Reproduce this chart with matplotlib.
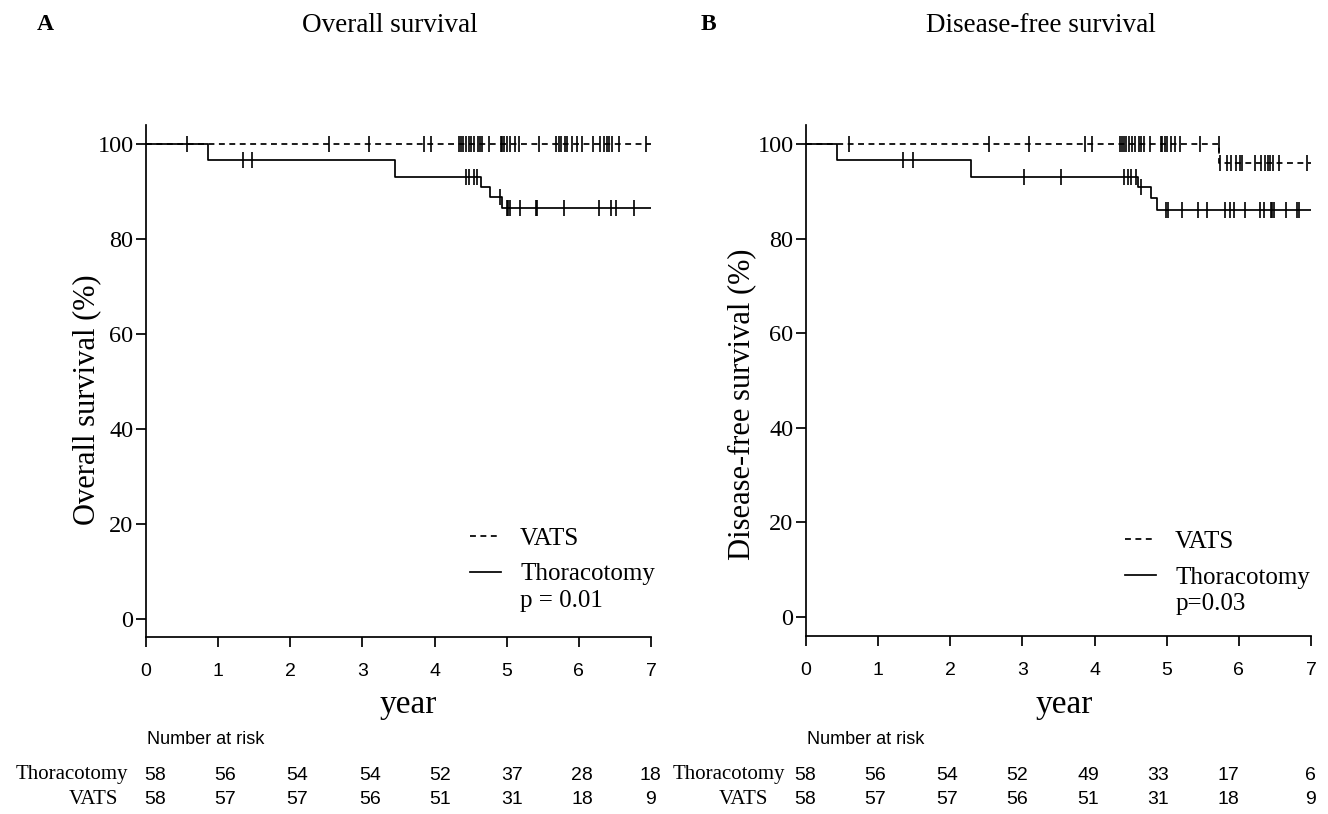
import numpy as np
import matplotlib
matplotlib.use("Agg")
import matplotlib.pyplot as plt
from matplotlib import font_manager as fm

# ---------------- data ----------------
years = [0, 1, 2, 3, 4, 5, 6, 7]
y_ticks = [0, 20, 40, 60, 80, 100]

# Panel A: overall survival (step curves: event times and survival after them)
os_thor_t = [0, 0.86, 3.45, 4.64, 4.77, 4.93, 7.0]
os_thor_s = [100, 96.6, 93.1, 91.0, 88.8, 86.6, 86.6]
os_vats_t = [0, 7.0]
os_vats_s = [100, 100]
os_thor_cens = [1.34, 1.47, 4.43, 4.48, 4.54, 4.59, 4.90, 5.00, 5.02, 5.05,
                5.18, 5.40, 5.42, 5.79, 6.28, 6.45, 6.52, 6.77]
os_vats_cens = [0.57, 2.54, 3.09, 3.85, 3.95, 4.34, 4.37, 4.40, 4.43, 4.48,
                4.51, 4.55, 4.60, 4.63, 4.66, 4.75, 4.92, 4.94, 4.96, 5.00,
                5.05, 5.11, 5.17, 5.45, 5.69, 5.72, 5.75, 5.81, 5.83, 5.91,
                5.98, 6.04, 6.20, 6.29, 6.35, 6.39, 6.42, 6.46, 6.55, 6.93]

# Panel B: disease-free survival
dfs_thor_t = [0, 0.43, 2.29, 4.60, 4.78, 4.87, 7.0]
dfs_thor_s = [100, 96.6, 93.1, 91.0, 88.5, 86.0, 86.0]
dfs_vats_t = [0, 5.73, 7.0]
dfs_vats_s = [100, 95.9, 95.9]
dfs_thor_cens = [1.34, 1.49, 3.02, 3.54, 4.41, 4.46, 4.51, 4.57, 4.64, 4.99,
                 5.02, 5.21, 5.43, 5.56, 5.81, 5.88, 5.93, 6.09, 6.29, 6.35,
                 6.44, 6.46, 6.49, 6.65, 6.81, 6.84]
dfs_vats_cens = [0.59, 2.54, 3.09, 3.87, 3.97, 4.35, 4.38, 4.41, 4.44, 4.48,
                 4.52, 4.56, 4.62, 4.64, 4.68, 4.77, 4.92, 4.94, 4.97, 5.00,
                 5.06, 5.12, 5.18, 5.46, 5.72, 5.74, 5.83, 5.89, 5.96, 6.01,
                 6.05, 6.22, 6.31, 6.36, 6.41, 6.43, 6.47, 6.56, 6.94]

# Number at risk
os_risk_thor = [58, 56, 54, 54, 52, 37, 28, 18]
os_risk_vats = [58, 57, 57, 56, 51, 31, 18, 9]
dfs_risk_thor = [58, 56, 54, 52, 49, 33, 17, 6]
dfs_risk_vats = [58, 57, 57, 56, 51, 31, 18, 9]

# ---------------- styling ----------------
names = {f.name for f in fm.fontManager.ttflist}
SERIF = "Liberation Serif" if "Liberation Serif" in names else "DejaVu Serif"
NARROW = "Liberation Sans Narrow" if "Liberation Sans Narrow" in names else "Liberation Sans"

W, H = 1328, 814
fig = plt.figure(figsize=(W / 100, H / 100), dpi=100)


def fx(px):
    return px / W


def fy(py):
    return 1 - py / H


def step_val(t_list, s_list, t):
    idx = np.searchsorted(np.asarray(t_list), t, side="right") - 1
    return np.asarray(s_list)[idx]


def panel(left_px, top_px, bottom_px, y0_px, y100_px,
          thor_t, thor_s, vats_t, vats_s, thor_c, vats_c,
          ylabel, ylab_xy, xlab_xy, leg_anchor, ptext, ptext_pos):
    right_px = left_px + 505
    ax = fig.add_axes([fx(left_px), fy(bottom_px), fx(right_px) - fx(left_px),
                       fy(top_px) - fy(bottom_px)])
    scale = (y0_px - y100_px) / 100.0
    ax.set_xlim(0, 7)
    ax.set_ylim(-(bottom_px - y0_px) / scale, 100 + (y100_px - top_px) / scale)

    lw = 1.25
    lv, = ax.step(vats_t, vats_s, where="post", color="black", lw=lw,
                  linestyle=(0, (3.4, 2.6)), label="VATS")
    lt, = ax.step(thor_t, thor_s, where="post", color="black", lw=lw,
                  label="Thoracotomy")
    ax.plot(vats_c, step_val(vats_t, vats_s, vats_c), linestyle="none",
            marker="|", ms=11.5, mew=1.2, color="black")
    ax.plot(thor_c, step_val(thor_t, thor_s, thor_c), linestyle="none",
            marker="|", ms=11.5, mew=1.2, color="black")

    for s in ["top", "right"]:
        ax.spines[s].set_visible(False)
    for s in ["left", "bottom"]:
        ax.spines[s].set_linewidth(1.25)

    ax.set_xticks(years)
    ax.set_yticks(y_ticks)
    ax.tick_params(axis="x", direction="out", length=7, width=1.25, pad=12)
    ax.tick_params(axis="y", direction="out", length=7, width=1.25, pad=2)
    for lab in ax.get_xticklabels():
        lab.set_fontfamily(NARROW)
        lab.set_fontsize(14)
    for lab in ax.get_yticklabels():
        lab.set_fontfamily(SERIF)
        lab.set_fontsize(17.5)

    ax.set_xlabel("year", fontfamily=SERIF, fontsize=24, va="center")
    ax.xaxis.set_label_coords(*xlab_xy)
    ax.set_ylabel(ylabel, fontfamily=SERIF, fontsize=22, va="center")
    ax.yaxis.set_label_coords(*ylab_xy)

    ax.legend(handles=[lv, lt], loc="upper left", bbox_to_anchor=leg_anchor,
              frameon=False, borderpad=0, borderaxespad=0, handlelength=1.25,
              handletextpad=0.75, labelspacing=0.52,
              prop={"family": SERIF, "size": 18})
    ax.text(ptext_pos[0], ptext_pos[1], ptext, transform=ax.transAxes,
            fontfamily=SERIF, fontsize=18, va="center", ha="left")
    return ax


axA = panel(146, 125, 637, 619, 144,
            os_thor_t, os_thor_s, os_vats_t, os_vats_s,
            os_thor_cens, os_vats_cens,
            "Overall survival (%)", (-0.117, 0.463), (0.519, -0.133),
            (0.642, 0.214), "p = 0.01", (0.741, 0.070))
axB = panel(806, 125, 636, 617, 144,
            dfs_thor_t, dfs_thor_s, dfs_vats_t, dfs_vats_s,
            dfs_thor_cens, dfs_vats_cens,
            "Disease-free survival (%)", (-0.127, 0.453), (0.511, -0.135),
            (0.632, 0.206), "p=0.03", (0.731, 0.063))

# titles and panel letters
fig.text(fx(45), fy(25), "A", fontfamily=SERIF, fontsize=17, fontweight="bold",
         ha="center", va="center")
fig.text(fx(390), fy(25), "Overall survival", fontfamily=SERIF, fontsize=19.5,
         ha="center", va="center")
fig.text(fx(708), fy(25), "B", fontfamily=SERIF, fontsize=17, fontweight="bold",
         ha="center", va="center")
fig.text(fx(1041), fy(25), "Disease-free survival", fontfamily=SERIF, fontsize=19.5,
         ha="center", va="center")

# number-at-risk tables (layout positions in pixels)
risk_cols_A = [155, 225, 297, 370, 440, 512, 582, 650]
risk_cols_B = [805, 875, 947, 1017, 1088, 1158, 1228, 1310]


def risk_table(nar_x, lab_right_thor, lab_right_vats, cols, thor, vats):
    fig.text(fx(nar_x), fy(740), "Number at risk", fontfamily=NARROW,
             fontsize=13, ha="left", va="center")
    fig.text(fx(lab_right_thor), fy(775), "Thoracotomy", fontfamily=SERIF,
             fontsize=15, ha="right", va="center")
    fig.text(fx(lab_right_vats), fy(800), "VATS", fontfamily=SERIF,
             fontsize=15, ha="right", va="center")
    for cx, a, b in zip(cols, thor, vats):
        fig.text(fx(cx), fy(775), str(a), fontfamily=NARROW, fontsize=14,
                 ha="center", va="center")
        fig.text(fx(cx), fy(800), str(b), fontfamily=NARROW, fontsize=14,
                 ha="center", va="center")


risk_table(147, 128, 118, risk_cols_A, os_risk_thor, os_risk_vats)
risk_table(807, 785, 768, risk_cols_B, dfs_risk_thor, dfs_risk_vats)

fig.savefig("out.png", dpi=100, facecolor="white")
